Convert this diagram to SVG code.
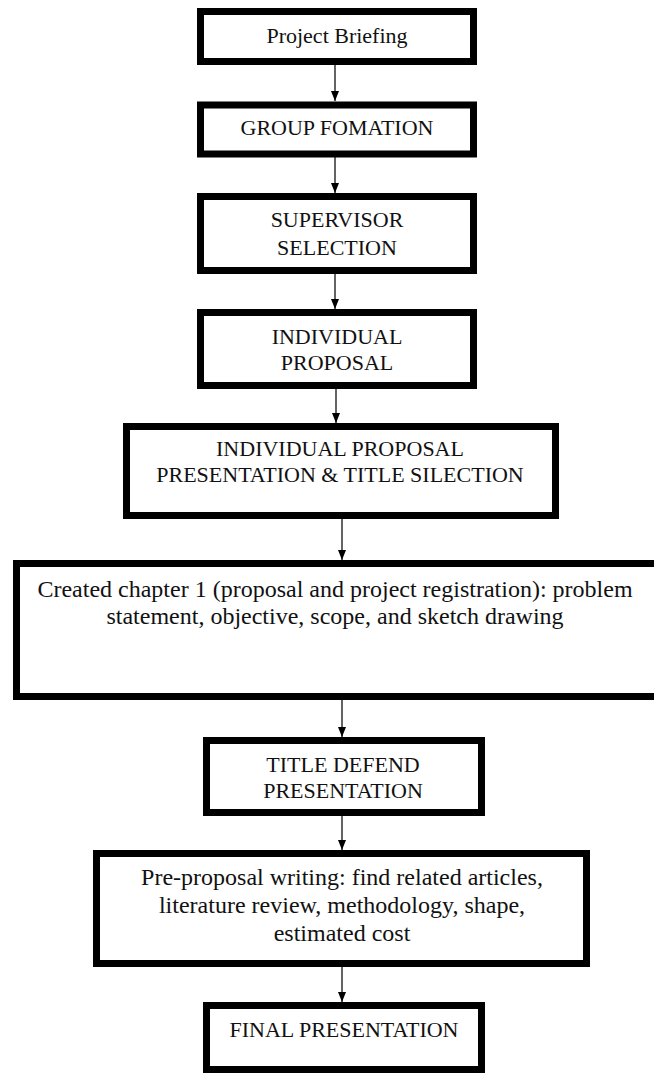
<svg xmlns="http://www.w3.org/2000/svg" width="654" height="1077" viewBox="0 0 654 1077">
<style>
.box{fill:#fff;stroke:#000;stroke-width:7}
.t{font-family:"Liberation Serif","Times New Roman",serif;font-size:22px;fill:#111;text-anchor:middle}
.l{font-size:24px}
.c{stroke:#222;stroke-width:1.4;fill:none}
</style>
<defs>
<marker id="ah" markerWidth="10" markerHeight="8" refX="10" refY="4" orient="auto" markerUnits="userSpaceOnUse">
<path d="M0,0 L10,4 L0,8 Z" fill="#000"/>
</marker>
</defs>
<rect width="654" height="1077" fill="#fff"/>
<g id="connectors">
<line class="c" x1="335" y1="65" x2="335" y2="101" marker-end="url(#ah)"/>
<line class="c" x1="335" y1="157" x2="335" y2="193" marker-end="url(#ah)"/>
<line class="c" x1="335" y1="274" x2="335" y2="309" marker-end="url(#ah)"/>
<line class="c" x1="336" y1="389" x2="336" y2="423" marker-end="url(#ah)"/>
<line class="c" x1="342" y1="519" x2="342" y2="560" marker-end="url(#ah)"/>
<line class="c" x1="342" y1="700" x2="342" y2="737" marker-end="url(#ah)"/>
<line class="c" x1="342" y1="816" x2="342" y2="850" marker-end="url(#ah)"/>
<line class="c" x1="342" y1="967" x2="342" y2="1002" marker-end="url(#ah)"/>
</g>
<g id="n1"><rect class="box" x="200.5" y="11.5" width="273" height="50"/><text class="t" x="337" y="43">Project Briefing</text></g>
<g id="n2"><rect class="box" x="200.5" y="105" width="273" height="49"/><text class="t" x="337" y="135">GROUP FOMATION</text></g>
<g id="n3"><rect class="box" x="200.5" y="196.5" width="273" height="74"/><text class="t" x="337" y="227">SUPERVISOR</text><text class="t" x="337" y="255">SELECTION</text></g>
<g id="n4"><rect class="box" x="200.5" y="312.5" width="273" height="73"/><text class="t" x="337" y="344">INDIVIDUAL</text><text class="t" x="337" y="370">PROPOSAL</text></g>
<g id="n5"><rect class="box" x="126.5" y="426.5" width="429" height="89"/><text class="t" x="340" y="456">INDIVIDUAL PROPOSAL</text><text class="t" x="340" y="482">PRESENTATION &amp; TITLE SILECTION</text></g>
<g id="n6"><rect class="box" x="16.5" y="563.5" width="660" height="133"/><text class="t l" x="335" y="597">Created chapter 1 (proposal and project registration): problem</text><text class="t l" x="335" y="624">statement, objective, scope, and sketch drawing</text></g>
<g id="n7"><rect class="box" x="206.5" y="740.5" width="275" height="72"/><text class="t" x="343" y="772">TITLE DEFEND</text><text class="t" x="343" y="798">PRESENTATION</text></g>
<g id="n8"><rect class="box" x="96.5" y="853.5" width="490" height="110"/><text class="t l" x="342" y="885">Pre-proposal writing: find related articles,</text><text class="t l" x="342" y="913">literature review, methodology, shape,</text><text class="t l" x="342" y="941">estimated cost</text></g>
<g id="n9"><rect class="box" x="206.5" y="1005.5" width="275" height="64"/><text class="t" x="344" y="1037">FINAL PRESENTATION</text></g>
</svg>
